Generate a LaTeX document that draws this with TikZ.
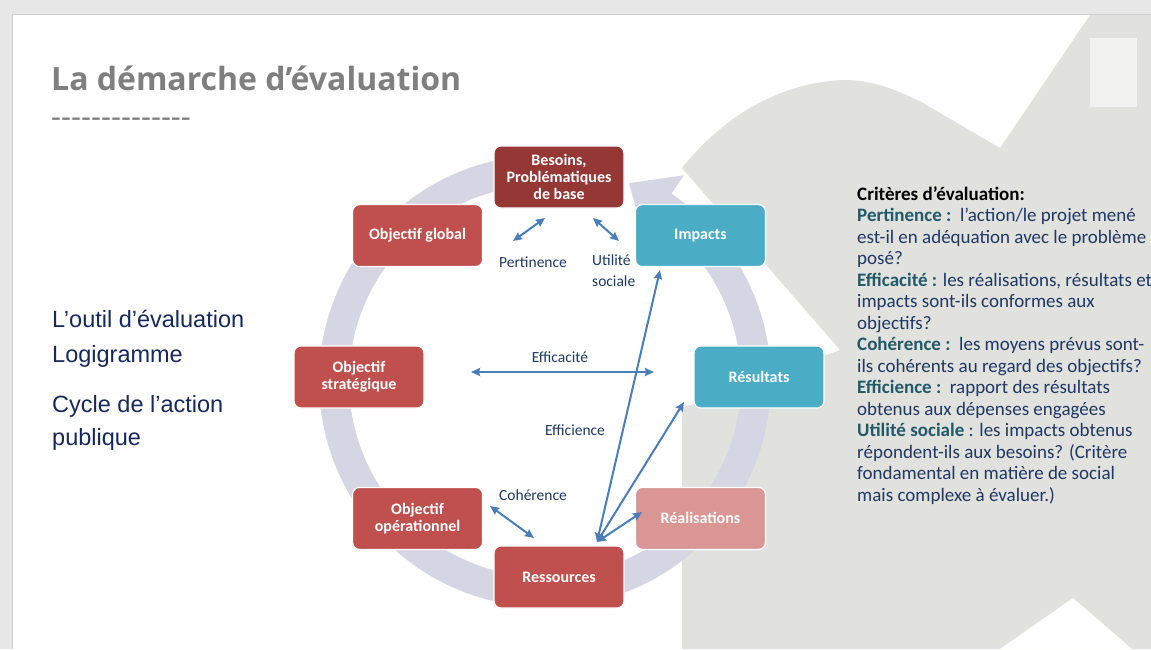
\documentclass[tikz,border=0pt]{standalone}
\usepackage{fontspec}
\setmainfont{Carlito}
\newfontfamily\titlefont{Open Sans}
\newfontfamily\slidefont{Liberation Sans}
\usetikzlibrary{arrows.meta, calc}

\definecolor{boxred}{RGB}{192,80,77}
\definecolor{boxdark}{RGB}{149,55,53}
\definecolor{boxteal}{RGB}{75,172,198}
\definecolor{boxpink}{RGB}{217,150,148}
\definecolor{ringc}{RGB}{214,213,227}
\definecolor{bggray}{RGB}{225,225,222}
\definecolor{offwhite}{RGB}{242,242,240}
\definecolor{arrblue}{RGB}{74,126,187}
\definecolor{navy}{RGB}{31,56,100}
\definecolor{sidenavy}{RGB}{22,40,92}
\definecolor{labteal}{RGB}{33,89,104}
\definecolor{framegray}{RGB}{231,231,231}
\definecolor{frameline}{RGB}{205,205,205}
\definecolor{titlegray}{RGB}{127,127,127}

\begin{document}
\begin{tikzpicture}[x=1pt, y=-1pt,
        box/.style={rectangle, draw=white, line width=1.2pt, rounded corners=7pt,
                    minimum width=130pt, minimum height=62pt, align=center,
                    text=white, font=\fontsize{16}{17}\selectfont\bfseries, fill=boxred},
        tealbox/.style={box, fill=boxteal},
        arr/.style={arrows={Stealth[length=9pt, width=8pt, inset=1pt]-Stealth[length=9pt, width=8pt, inset=1pt]},
                    line width=2pt, arrblue},
        lbl/.style={font=\fontsize{15.5}{21}\selectfont, text=navy, inner sep=0pt},
        side/.style={font=\slidefont\fontsize{23.5}{28}\selectfont, text=sidenavy,
                    anchor=base west, inner sep=0pt}
    ]
    \useasboundingbox (0,0) rectangle (1151,649);
    % Slide and frame
    \fill[white] (0,0) rectangle (1151,649);
    \fill[framegray] (0,0) rectangle (1151,14);
    \fill[framegray] (0,0) rectangle (12,649);
    \draw[frameline] (12,14) -- (1151,14);
    \draw[frameline] (12,14) -- (12,649);

    % Background cycle logo
    \fill[bggray] (682,649) -- (682,408) -- (840,350) -- (682,168)
        .. controls (722,118) and (778,82) .. (845,80)
        .. controls (872,80) and (898,90) .. (923,103)
        -- (1000,148) -- (1090,15) -- (1151,15) -- (1151,649) -- cycle;
    \fill[offwhite] (1090,38) rectangle (1137,107);
    \fill[white] (1000,649) -- (1073,598) -- (1132,649) -- cycle;

    % Ring of the cycle
    \coordinate (rc) at (545,381);
    \fill[ringc] ($(rc)+(-100:226)$) arc[start angle=-100, end angle=-416, radius=226]
        -- ($(rc)+(-416:248)$) -- ($(rc)+(-427:215)$) -- ($(rc)+(-416:176)$)
        -- ($(rc)+(-416:196)$) arc[start angle=-416, end angle=-100, radius=196] -- cycle;

    % Title
    \node[anchor=base west, inner sep=0pt, text=titlegray,
          font=\titlefont\fontsize{32}{36}\selectfont\bfseries] (title) at (51,90) {La démarche d’évaluation};
    \node[anchor=base west, inner sep=0pt, text=titlegray,
          font=\titlefont\fontsize{31}{36}\selectfont] (dashes) at (51,127) {-{}-{}-{}-{}-{}-{}-{}-{}-{}-{}-{}-{}-{}-};

    % Left text
    \node[side] (outil) at (52,327) {L’outil d’évaluation};
    \node[side] (logi)  at (52,362) {Logigramme};
    \node[side] (cycle) at (52,412) {Cycle de l’action};
    \node[side] (publ)  at (52,445) {publique};

    % Boxes round the cycle
    \coordinate (c) at (559,377);
    \node[box, fill=boxdark] (besoins) at ($(c)+(-90:200)$) {Besoins,\\Problématiques\\de base};
    \node[box] (objglob) at ($(c)+(-135:200)$) {Objectif global};
    \node[tealbox] (impacts) at ($(c)+(-45:200)$) {Impacts};
    \node[box] (objstrat) at ($(c)+(180:200)$) {Objectif\\stratégique};
    \node[tealbox] (result) at ($(c)+(0:200)$) {Résultats};
    \node[box] (objop) at ($(c)+(135:200)$) {Objectif\\opérationnel};
    \node[box, fill=boxpink] (realis) at ($(c)+(45:200)$) {Réalisations};
    \node[box] (ressources) at ($(c)+(90:200)$) {Ressources};

    % Arrow ends
    \coordinate (pe1) at (545,218);  \coordinate (pe2) at (513,241);
    \coordinate (us1) at (593,218);  \coordinate (us2) at (619,241);
    \coordinate (ef1) at (471,372);  \coordinate (ef2) at (654,372);
    \coordinate (co1) at (490,506);  \coordinate (co2) at (534,538);
    \coordinate (rs)  at (597,542);
    \coordinate (im)  at (660,270);
    \coordinate (re)  at (684,402);
    \coordinate (rl)  at (642,512);

    % Connections
    \draw[arr] (pe1) -- (pe2);
    \draw[arr] (us1) -- (us2);
    \draw[arr] (ef1) -- (ef2);
    \draw[arr] (co1) -- (co2);
    \draw[arr] (rs) -- (im);
    \draw[arr] (rs) -- (re);
    \draw[arr] (rs) -- (rl);

    % Criteria labels
    \node[lbl] (lpert) at (533,262) {Pertinence};
    \node[lbl, align=left, anchor=north west] (lutil) at (592,255) {Utilité\\sociale};
    \node[lbl] (leffi) at (560,357) {Efficacité};
    \node[lbl] (leffc) at (575,430) {Efficience};
    \node[lbl] (lcohe) at (533,495) {Cohérence};

    % Criteria text
    \node[anchor=north west, align=left, inner sep=0pt, text=navy,
          font=\fontsize{19}{21.5}\selectfont] (crittext) at (857,186) {%
        \textcolor{black}{\bfseries Critères d’évaluation:}\\
        \textcolor{labteal}{\bfseries Pertinence :}\ \ l’action/le projet mené\\
        est-il en adéquation avec le problème\\
        posé?\\
        \textcolor{labteal}{\bfseries Efficacité :} les réalisations, résultats et\\
        impacts sont-ils conformes aux\\
        objectifs?\\
        \textcolor{labteal}{\bfseries Cohérence :}\ \ les moyens prévus sont-\\
        ils cohérents au regard des objectifs?\\
        \textcolor{labteal}{\bfseries Efficience :}\ \ rapport des résultats\\
        obtenus aux dépenses engagées\\
        \textcolor{labteal}{\bfseries Utilité sociale} : les impacts obtenus\\
        répondent-ils aux besoins? (Critère\\
        fondamental en matière de social\\
        mais complexe à évaluer.)};
\end{tikzpicture}
\end{document}
